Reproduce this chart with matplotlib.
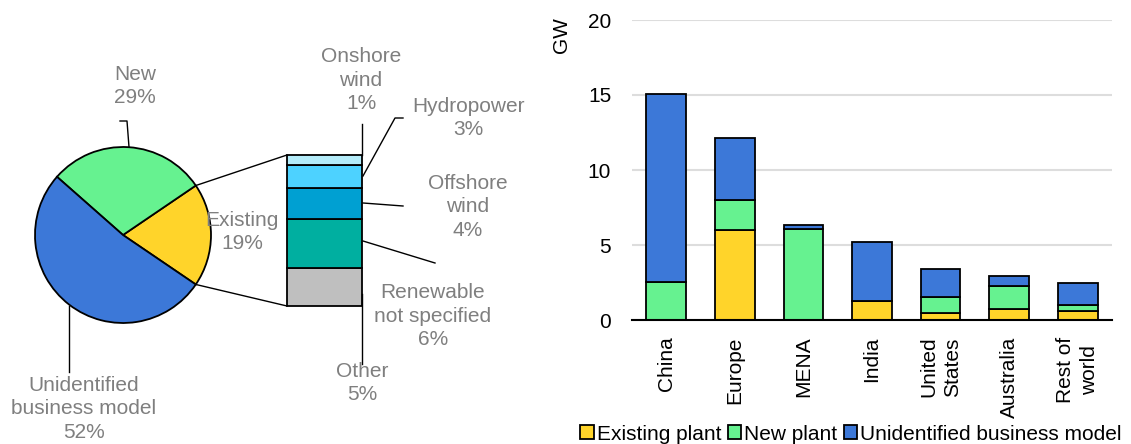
import matplotlib.pyplot as plt
import numpy as np

plt.rcParams['font.family'] = ['Liberation Sans', 'DejaVu Sans']

# pie: share of capacity by business model (%)
pie_labels = ['Existing', 'New', 'Unidentified\nbusiness model']
pie_values = [19, 29, 52]
pie_colors = ['#FFD42A', '#66F290', '#3C78D8']

# breakdown of the "existing" slice (%), bottom to top
sub_labels = ['Other', 'Renewable\nnot specified', 'Offshore\nwind', 'Hydropower', 'Onshore\nwind']
sub_values = [4.8, 6.1, 4.0, 2.8, 1.3]
sub_colors = ['#BFBFBF', '#00AFA0', '#00A0D2', '#4DD2FF', '#B4ECFA']

# capacity by region (GW)
regions = ['China', 'Europe', 'MENA', 'India', 'United\nStates', 'Australia', 'Rest of\nworld']
existing = [0, 6.0, 0, 1.3, 0.44, 0.71, 0.6]
new = [2.55, 2.0, 6.1, 0, 1.07, 1.55, 0.4]
unidentified = [12.5, 4.13, 0.25, 3.9, 1.9, 0.67, 1.44]

W, H = 1131, 444
fig = plt.figure(figsize=(W / 100, H / 100), dpi=100)
grey = '#7F7F7F'
fs = 15

# ---- left: pie + bar of pie, axes in pixel units (y measured from top)
axl = fig.add_axes([0, 0, 560 / W, 1])
cx, cy, r = 123, 235, 88
start = -pie_values[0] * 3.6 / 2
axl.pie(pie_values, colors=pie_colors, startangle=start, center=(cx, H - cy), radius=r,
        wedgeprops=dict(edgecolor='black', linewidth=1.3))
axl.set_xlim(0, 560)
axl.set_ylim(0, H)
axl.axis('off')

def Y(y):
    return H - y

bx, bw, btop, bbot = 324.5, 75, 155, 306
scale = (bbot - btop) / sum(sub_values)
bottoms = np.concatenate([[0], np.cumsum(sub_values)[:-1]])
axl.bar([bx] * len(sub_values), np.array(sub_values) * scale, width=bw,
        bottom=Y(bbot) + bottoms * scale, color=sub_colors, edgecolor='black', linewidth=1.3)

# connectors from the existing slice to the bar
for ang, yb in [(start, bbot), (-start, btop)]:
    px = cx + r * np.cos(np.radians(ang))
    py = Y(cy) + r * np.sin(np.radians(ang))
    axl.plot([px, bx - bw / 2], [py, Y(yb)], color='black', lw=1)

leaders = [
    [(362, 155), (362, 124)],
    [(363, 176), (395, 118), (403, 118)],
    [(363, 203), (403, 206)],
    [(363, 241), (435, 263)],
    [(362, 294), (362, 364)],
    [(129, 147), (127, 121), (120, 121)],
    [(69, 306), (69, 372)],
]
for pts in leaders:
    xs, ys = zip(*pts)
    axl.plot(xs, [Y(v) for v in ys], color='black', lw=1, clip_on=False)

sub_pos = [(362, 383), (433, 316), (468, 207), (468, 118), (361, 80)]
for lab, v, (x, y) in zip(sub_labels, sub_values, sub_pos):
    axl.text(x, Y(y), f'{lab}\n{round(v):.0f}%', ha='center', va='center',
             color=grey, fontsize=fs, linespacing=1.32)

pie_pos = [(242, 232), (135, 86), (84, 409)]
for lab, v, (x, y) in zip(pie_labels, pie_values, pie_pos):
    axl.text(x, Y(y), f'{lab}\n{v}%', ha='center', va='center',
             color=grey, fontsize=fs, linespacing=1.32)

# ---- right: stacked bars by region
ax = fig.add_axes([632 / W, 124 / H, 480 / W, 300 / H])
x = np.arange(len(regions))
bw2 = 0.58
e = np.array(existing)
n = np.array(new)
u = np.array(unidentified)
b1 = ax.bar(x, e, bw2, color=pie_colors[0], edgecolor='black', lw=1.3, label='Existing plant')
b2 = ax.bar(x, n, bw2, bottom=e, color=pie_colors[1], edgecolor='black', lw=1.3, label='New plant')
b3 = ax.bar(x, u, bw2, bottom=e + n, color=pie_colors[2], edgecolor='black', lw=1.3,
            label='Unidentified business model')

ax.set_xlim(-0.5, len(regions) - 0.5)
ax.set_ylim(0, 20)
ax.set_yticks([0, 5, 10, 15, 20])
ax.yaxis.grid(True, color='#DDDDDD', lw=1.5)
ax.set_axisbelow(True)
for s in ['left', 'right', 'top']:
    ax.spines[s].set_visible(False)
ax.spines['bottom'].set_linewidth(1.5)
ax.tick_params(axis='both', length=0, labelsize=fs)
ax.tick_params(axis='y', pad=15)
ax.tick_params(axis='x', pad=12)
ax.set_xticks(x)
ax.set_xticklabels(regions, rotation=90, ha='center', va='top', linespacing=1.3)
fig.text(562 / W, 1 - 35 / H, 'GW', rotation=90, ha='center', va='center', fontsize=fs)

fig.legend(handles=[b1, b2, b3], loc='center', bbox_to_anchor=(851 / W, 10 / H), ncol=3,
           frameon=False, fontsize=fs, handlelength=0.65, handleheight=0.65,
           handletextpad=0.15, columnspacing=0.3, borderaxespad=0, borderpad=0)

fig.savefig('out.png', dpi=100)
